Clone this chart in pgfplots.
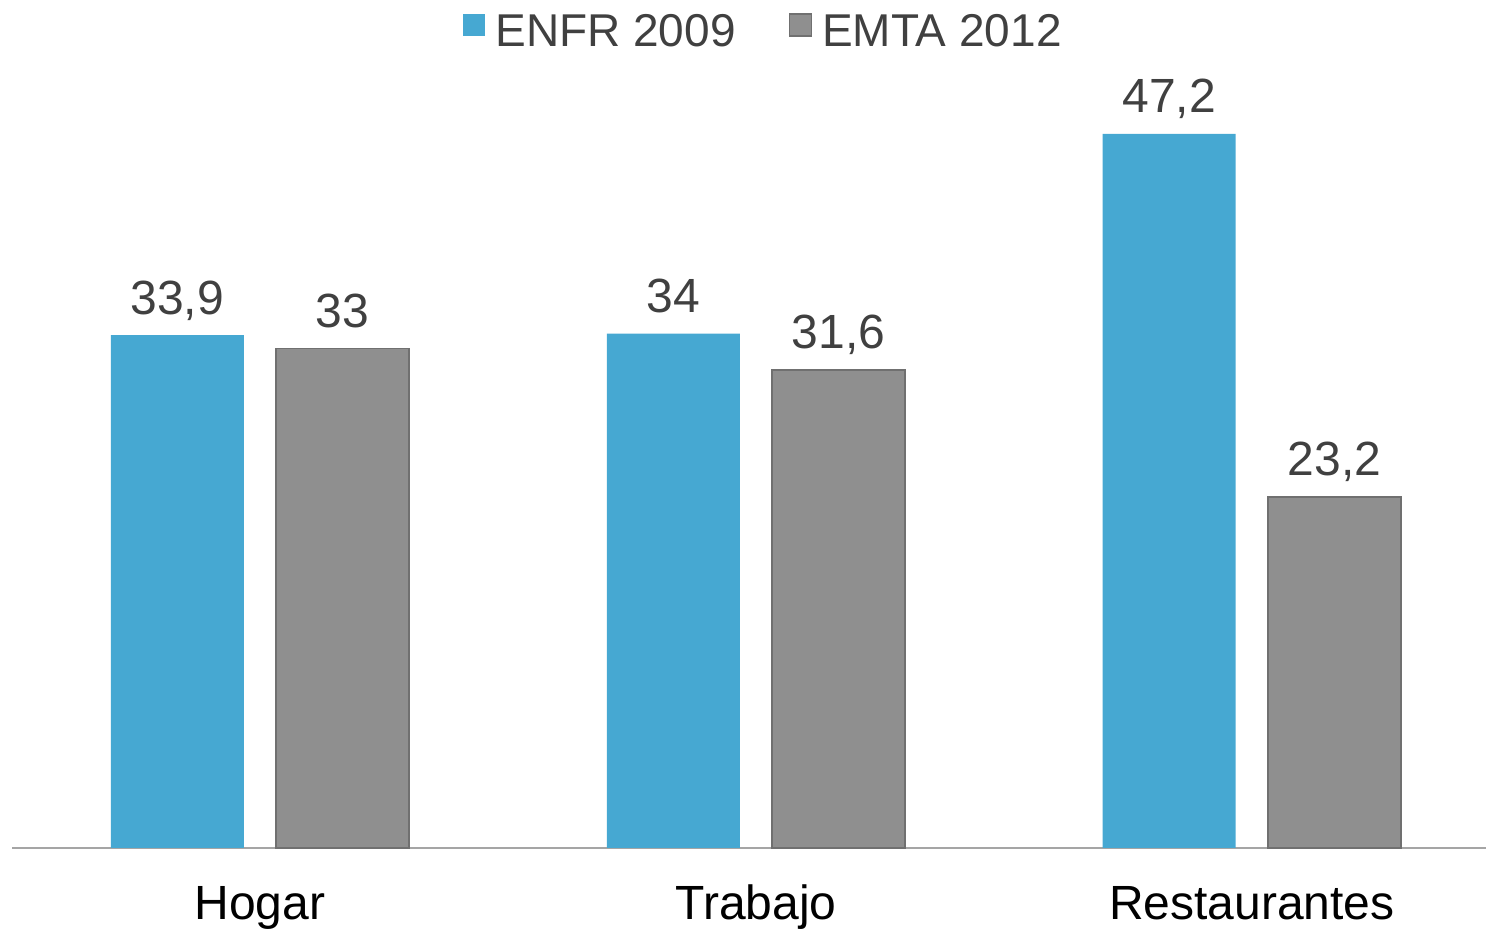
\documentclass[border=0pt]{standalone}
\usepackage{fontspec}
\setmainfont{Liberation Sans}
\usepackage{pgfplots}
\pgfplotsset{compat=1.18}
\definecolor{cblue}{RGB}{70,168,210}
\definecolor{cgray}{RGB}{143,143,143}
\definecolor{cgrayedge}{RGB}{112,112,112}
\definecolor{ctext}{RGB}{64,64,64}
\definecolor{caxis}{RGB}{165,165,165}
\begin{document}
\begin{tikzpicture}
\begin{axis}[
  name=ax,
  scale only axis,
  width=737pt, height=378.25pt,
  xmin=-0.5, xmax=2.472, ymin=0, ymax=50,
  clip=false,
  ybar=16.2pt, bar width=66.5pt,
  hide y axis,
  axis x line*=bottom,
  x axis line style={-, draw=caxis, line width=1pt},
  xtick=data,
  xticklabels={Hogar,Trabajo,Restaurantes},
  major tick length=0pt,
  xtick style={draw=none},
  xticklabel style={anchor=base, yshift=-36pt, font=\fontsize{24}{28}\selectfont, text=black},
  /pgf/number format/use comma,
  /pgf/number format/assume math mode=true,
  nodes near coords,
  nodes near coords style={anchor=base, yshift=10.5pt, font=\fontsize{24}{28}\selectfont, text=ctext},
  legend columns=2,
  legend style={
    at={(rel axis cs:0.306,1)}, anchor=north west, yshift=39.25pt,
    draw=none, fill=none, inner sep=0pt,
    font=\fontsize{23}{27}\selectfont, text=ctext,
    nodes={inner sep=0pt},
    column sep=5pt,
    /tikz/every even column/.append style={column sep=26.5pt},
  },
  legend image code/.code={\fill[#1] (0pt,-2.3pt) rectangle (11pt,8.7pt);},
]
\addplot[fill=cblue, draw=none] coordinates {(0,33.9) (1,34) (2,47.2)};
\addplot[fill=cgray, draw=cgrayedge, line width=0.75pt] coordinates {(0,33) (1,31.6) (2,23.2)};
\legend{ENFR 2009, EMTA 2012}
\end{axis}
\pgfresetboundingbox
\path[use as bounding box] ([xshift=-6pt,yshift=-43pt]ax.south west) rectangle ([yshift=45.75pt]ax.north east);
\end{tikzpicture}
\end{document}
